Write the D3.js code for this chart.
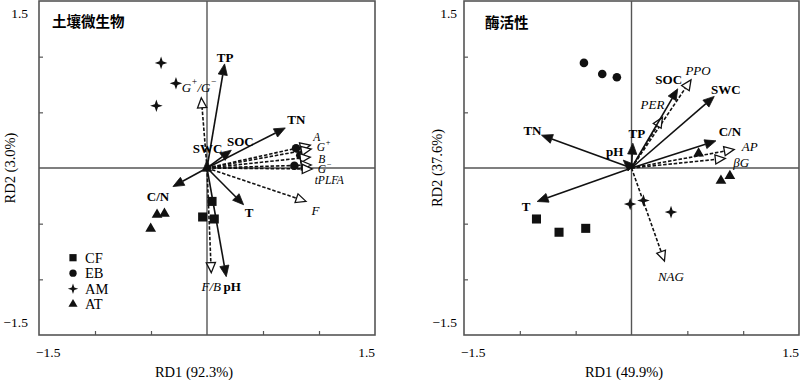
<!DOCTYPE html>
<html>
<head>
<meta charset="utf-8">
<script src="https://cdn.jsdelivr.net/npm/d3@7"></script>
<style>
  html, body { margin: 0; padding: 0; background: #fff; }
  svg { display: block; }
</style>
</head>
<body>
<svg id="chart" width="800" height="380"></svg>
<script>
// ---------------- DATA ----------------
const axisDomain = [-1.5, 1.5];
const innerTicks = [-1, -0.5, 0.5, 1];
const tickLabels = ["\u22121.5", "1.5"];
const groups = ["CF", "EB", "AM", "AT"];

// Left panel: soil microbes (RDA)
const microbeTitle = "土壤微生物";
const microbeXLabel = "RD1 (92.3%)";
const microbeYLabel = "RD2 (3.0%)";
const microbeCF = [[0.045, -0.30], [-0.039, -0.44], [0.065, -0.458]];
const microbeEB = [[0.795, 0.178], [0.833, 0.115], [0.78, 0.02]];
const microbeAM = [[-0.41, 0.944], [-0.277, 0.761], [-0.452, 0.559]];
const microbeAT = [[-0.446, -0.42], [-0.38, -0.41], [-0.503, -0.545]];
const microbeEnvNames = ["TP", "TN", "SOC", "SWC", "C/N", "T", "pH"];
const microbeEnvX = [0.157, 0.699, 0.217, 0.0, -0.304, 0.327, 0.172];
const microbeEnvY = [0.935, 0.36, 0.16, 0.07, -0.167, -0.33, -0.976];
const microbeSpNames = ["G^+/G^-", "A", "G^+", "B", "G^-", "tPLFA", "F", "F/B"];
const microbeSpX = [-0.051, 0.922, 0.931, 0.922, 0.931, 0.94, 0.884, 0.038];
const microbeSpY = [0.631, 0.205, 0.170, 0.098, 0.027, -0.009, -0.30, -0.94];

// Right panel: enzyme activity (RDA)
const enzymeTitle = "酶活性";
const enzymeXLabel = "RD1 (49.9%)";
const enzymeYLabel = "RD2 (37.6%)";
const enzymeCF = [[-0.851, -0.458], [-0.649, -0.577], [-0.41, -0.542]];
const enzymeEB = [[-0.426, 0.944], [-0.262, 0.845], [-0.131, 0.815]];
const enzymeAM = [[-0.012, -0.324], [0.107, -0.292], [0.354, -0.396]];
const enzymeAT = [[0.601, 0.131], [0.801, -0.113], [0.881, -0.071]];
const enzymeEnvNames = ["TN", "TP", "pH", "SOC", "SWC", "C/N", "T"];
const enzymeEnvX = [-0.806, 0.012, -0.074, 0.414, 0.741, 0.756, -0.845];
const enzymeEnvY = [0.295, 0.223, 0.071, 0.711, 0.643, 0.244, -0.301];
const enzymeSpNames = ["PPO", "PER", "AP", "βG", "NAG"];
const enzymeSpX = [0.533, 0.277, 0.92, 0.84, 0.295];
const enzymeSpY = [0.792, 0.455, 0.167, 0.086, -0.836];

// ---------------- LAYOUT / STYLE ----------------
const SERIF = "'Liberation Serif','Times New Roman',Times,serif";
const CJK = "'Noto Sans CJK SC','Noto Sans CJK JP',sans-serif";
const INK = "#000";

// label offsets (pixels from arrow tip to label centre) and font sizes
const microbeEnvOff = [[0.5, -6.5], [11, -8], [9, -8.5], [0.5, -12], [-15, 10], [5.5, 8], [6, 9.5]];
const microbeSpOff = [[-2, -11], [6.5, -8.5], [12.5, -1.8], [11.5, 1.5], [13.5, 4.5], [17, 11], [9.5, 8.5], [0, 13.5]];
const microbeSpFont = [13, 11.5, 11.5, 11.5, 11.5, 11.5, 13, 13];
const enzymeEnvOff = [[-9, -5], [4, -10], [-8.5, -8.5], [-9, -9], [11.5, -7], [14, -9], [-11, 5]];
const enzymeSpOff = [[7, -9.5], [-10, -13], [15.5, -3.5], [16, 4], [6.5, 15]];
const enzymeSpFont = [13, 13, 13, 13, 13];

const panels = [
  {
    xRange: [39, 375], yRange: [335, 1],
    title: microbeTitle, titlePos: [52, 20],
    xLabel: microbeXLabel, xLabelX: 194,
    yLabel: microbeYLabel, yLabelX: 10,
    yTickEnd: 28,
    sites: [microbeCF, microbeEB, microbeAM, microbeAT],
    env: {names: microbeEnvNames, x: microbeEnvX, y: microbeEnvY, off: microbeEnvOff},
    sp: {names: microbeSpNames, x: microbeSpX, y: microbeSpY, off: microbeSpOff, font: microbeSpFont},
    legend: true
  },
  {
    xRange: [464, 799], yRange: [335, 1],
    title: enzymeTitle, titlePos: [485, 21],
    xLabel: enzymeXLabel, xLabelX: 624,
    yLabel: enzymeYLabel, yLabelX: 437,
    yTickEnd: 457,
    sites: [enzymeCF, enzymeEB, enzymeAM, enzymeAT],
    env: {names: enzymeEnvNames, x: enzymeEnvX, y: enzymeEnvY, off: enzymeEnvOff},
    sp: {names: enzymeSpNames, x: enzymeSpX, y: enzymeSpY, off: enzymeSpOff, font: enzymeSpFont},
    legend: false
  }
];

// custom 4-point star symbol
const symbolStar4 = {
  draw(ctx, size) {
    const r = Math.sqrt(size) * 0.6;
    const ri = r * 0.36;
    for (let i = 0; i < 8; i++) {
      const a = i * Math.PI / 4 - Math.PI / 2;
      const rr = i % 2 === 0 ? r : ri;
      const px = rr * Math.cos(a), py = rr * Math.sin(a);
      if (i === 0) ctx.moveTo(px, py); else ctx.lineTo(px, py);
    }
    ctx.closePath();
  }
};
const symbolTypes = [d3.symbolSquare, d3.symbolCircle, symbolStar4, d3.symbolTriangle];
const symbolSizes = [82, 58, 110, 50];
const legendSizes = [52, 42, 75, 36];

const svg = d3.select("#chart");

function addRichText(sel, label, fontSize) {
  // supports "G^+/G^-" superscripts
  const parts = label.split(/(\^[+\-])/);
  parts.forEach(p => {
    if (!p) return;
    if (p[0] === "^") {
      sel.append("tspan").attr("baseline-shift", "super").attr("font-size", fontSize * 0.72)
        .text(p[1] === "-" ? "\u2212" : "+");
    } else {
      sel.append("tspan").text(p);
    }
  });
}

function drawArrow(g, x0, y0, x1, y1, dashed) {
  const dx = x1 - x0, dy = y1 - y0;
  const len = Math.hypot(dx, dy);
  const ux = dx / len, uy = dy / len;
  const headL = dashed ? 10 : 11, headW = 4.6;
  const bx = x1 - ux * headL, by = y1 - uy * headL;
  const lineEnd = len > headL ? [bx, by] : [x0, y0];
  g.append("line")
    .attr("x1", x0).attr("y1", y0).attr("x2", lineEnd[0]).attr("y2", lineEnd[1])
    .attr("stroke", "#111").attr("stroke-width", 1.6)
    .attr("stroke-dasharray", dashed ? "3.5,1.8" : null);
  const px = -uy, py = ux;
  const pts = [[x1, y1], [bx + px * headW, by + py * headW], [bx - px * headW, by - py * headW]];
  g.append("path")
    .attr("d", d3.line()(pts) + "Z")
    .attr("fill", dashed ? "#fff" : "#111")
    .attr("stroke", "#111").attr("stroke-width", dashed ? 1.3 : 0.8)
    .attr("stroke-linejoin", "miter");
}

panels.forEach(p => {
  const x = d3.scaleLinear().domain(axisDomain).range(p.xRange);
  const y = d3.scaleLinear().domain(axisDomain).range(p.yRange);
  const g = svg.append("g");

  // zero lines
  g.append("line").attr("x1", x(0)).attr("x2", x(0)).attr("y1", y(1.5)).attr("y2", y(-1.5))
    .attr("stroke", "#555").attr("stroke-width", 1.4);
  g.append("line").attr("x1", x(-1.5)).attr("x2", x(1.5)).attr("y1", y(0)).attr("y2", y(0))
    .attr("stroke", "#555").attr("stroke-width", 1.4);

  // frame
  g.append("rect").attr("x", x(-1.5)).attr("y", y(1.5))
    .attr("width", x(1.5) - x(-1.5)).attr("height", y(-1.5) - y(1.5))
    .attr("fill", "none").attr("stroke", "#555").attr("stroke-width", 1.6);

  // inward ticks via axes
  const xAxis = d3.axisBottom(x).tickValues(innerTicks).tickSize(-4).tickFormat("");
  const yAxis = d3.axisLeft(y).tickValues(innerTicks).tickSize(-4).tickFormat("");
  const gx = g.append("g").attr("transform", `translate(0,${y(-1.5)})`).call(xAxis);
  const gy = g.append("g").attr("transform", `translate(${x(-1.5)},0)`).call(yAxis);
  [gx, gy].forEach(a => {
    a.select(".domain").remove();
    a.selectAll("text").remove();
    a.selectAll("line").attr("stroke", "#555").attr("stroke-width", 1.2);
  });

  // tick labels (only end values)
  const tl = g.append("g").attr("font-family", SERIF).attr("font-size", 13.5).attr("fill", INK);
  tl.append("text").attr("x", x(-1.5) - 3).attr("y", 352).attr("dominant-baseline", "central")
    .attr("text-anchor", "start").text(tickLabels[0]);
  tl.append("text").attr("x", x(1.5)).attr("y", 352).attr("dominant-baseline", "central")
    .attr("text-anchor", "end").text(tickLabels[1]);
  tl.append("text").attr("x", p.yTickEnd).attr("y", 13).attr("dominant-baseline", "central")
    .attr("text-anchor", "end").text(tickLabels[1]);
  tl.append("text").attr("x", p.yTickEnd).attr("y", 322).attr("dominant-baseline", "central")
    .attr("text-anchor", "end").text(tickLabels[0]);

  // axis titles
  g.append("text").attr("x", p.xLabelX).attr("y", 372).attr("dominant-baseline", "central")
    .attr("text-anchor", "middle").attr("font-family", SERIF).attr("font-size", 14.5)
    .attr("fill", INK).text(p.xLabel);
  g.append("text").attr("transform", `translate(${p.yLabelX},${y(0)}) rotate(-90)`)
    .attr("dominant-baseline", "central").attr("text-anchor", "middle")
    .attr("font-family", SERIF).attr("font-size", 14.5).attr("fill", INK).text(p.yLabel);

  // panel title
  g.append("text").attr("x", p.titlePos[0]).attr("y", p.titlePos[1]).attr("dominant-baseline", "central")
    .attr("font-family", CJK).attr("font-weight", "bold").attr("font-size", 14.5)
    .attr("fill", INK).text(p.title);

  // site points
  p.sites.forEach((pts, gi) => {
    g.append("g").selectAll("path").data(pts).join("path")
      .attr("transform", d => `translate(${x(d[0])},${y(d[1])})`)
      .attr("d", d3.symbol().type(symbolTypes[gi]).size(symbolSizes[gi]))
      .attr("fill", "#111");
  });

  // arrows: species (dashed, open heads) then environment (solid)
  const ox = x(0), oy = y(0);
  const ga = g.append("g");
  p.sp.names.forEach((n, i) => drawArrow(ga, ox, oy, x(p.sp.x[i]), y(p.sp.y[i]), true));
  p.env.names.forEach((n, i) => drawArrow(ga, ox, oy, x(p.env.x[i]), y(p.env.y[i]), false));

  // labels
  p.env.names.forEach((n, i) => {
    g.append("text").attr("x", x(p.env.x[i]) + p.env.off[i][0]).attr("y", y(p.env.y[i]) + p.env.off[i][1])
      .attr("text-anchor", "middle").attr("dominant-baseline", "central")
      .attr("font-family", SERIF).attr("font-weight", "bold").attr("font-size", 13)
      .attr("fill", INK).text(n);
  });
  p.sp.names.forEach((n, i) => {
    const fs = p.sp.font[i];
    const t = g.append("text").attr("x", x(p.sp.x[i]) + p.sp.off[i][0]).attr("y", y(p.sp.y[i]) + p.sp.off[i][1])
      .attr("text-anchor", "middle").attr("dominant-baseline", "central")
      .attr("font-family", SERIF).attr("font-style", "italic").attr("font-size", fs)
      .attr("fill", INK);
    addRichText(t, n, fs);
  });

  // legend
  if (p.legend) {
    const lg = g.append("g");
    groups.forEach((name, gi) => {
      const ly = 257.7 + gi * 15.5;
      lg.append("path").attr("transform", `translate(73,${ly})`)
        .attr("d", d3.symbol().type(symbolTypes[gi]).size(legendSizes[gi])).attr("fill", "#111");
      lg.append("text").attr("x", 85).attr("y", ly).attr("dominant-baseline", "central")
        .attr("font-family", SERIF).attr("font-size", 14.5).attr("fill", INK).text(name);
    });
  }
});
</script>
</body>
</html>
